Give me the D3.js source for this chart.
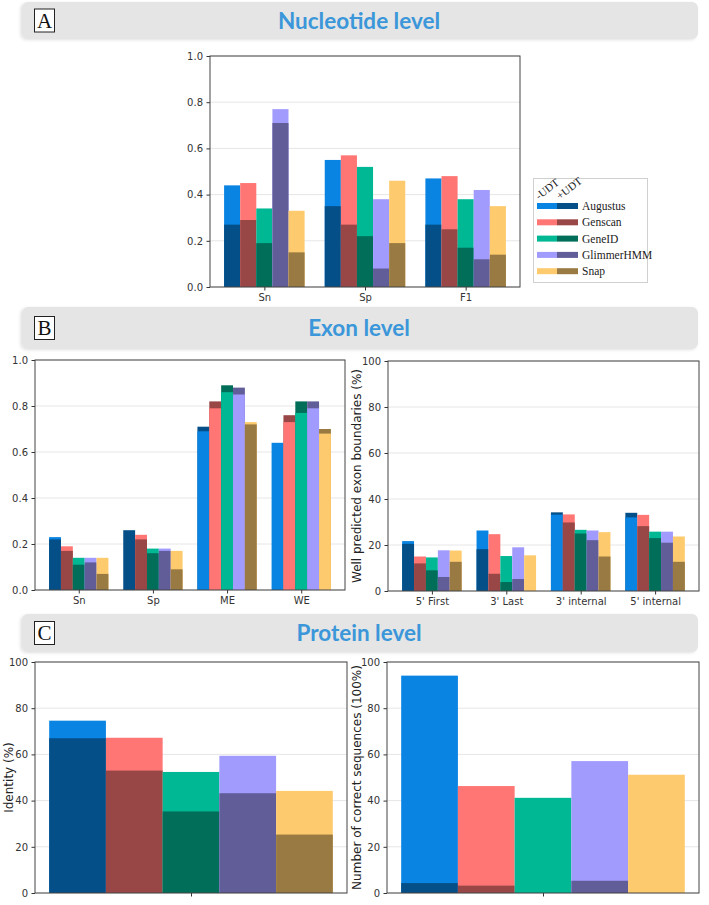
<!DOCTYPE html>
<html><head><meta charset="utf-8">
<script src="https://cdn.jsdelivr.net/npm/d3@7"></script>
<style>body{margin:0;background:#fff}svg{display:block}</style>
</head><body>
<script>
// ---------- data ----------
const tools = ["Augustus", "Genscan", "GeneID", "GlimmerHMM", "Snap"];
const lightColors = ["#0984e3", "#ff7675", "#00b894", "#a29bfe", "#fdcb6e"]; // -UDT
const darkColors  = ["#054f88", "#994746", "#006e59", "#615d98", "#987a42"]; // +UDT
const seriesLabels = ["-UDT", "+UDT"];

// A: nucleotide level (rows = tools, cols = categories)
const nucCats = ["Sn", "Sp", "F1"];
const nucMinus = [[0.44, 0.55, 0.47], [0.45, 0.57, 0.48], [0.34, 0.52, 0.38], [0.77, 0.38, 0.42], [0.33, 0.46, 0.35]];
const nucPlus  = [[0.27, 0.35, 0.27], [0.29, 0.27, 0.25], [0.19, 0.22, 0.17], [0.71, 0.08, 0.12], [0.15, 0.19, 0.14]];

// B left: exon level
const exonCats = ["Sn", "Sp", "ME", "WE"];
const exonMinus = [[0.23, null, 0.69, 0.64], [0.19, 0.24, 0.79, 0.73], [0.14, 0.18, 0.86, 0.77], [0.14, 0.18, 0.85, 0.79], [0.14, 0.17, 0.73, 0.68]];
const exonPlus  = [[0.22, 0.26, 0.71, null], [0.17, 0.22, 0.82, 0.76], [0.11, 0.16, 0.89, 0.82], [0.12, 0.17, 0.88, 0.82], [0.07, 0.09, 0.72, 0.70]];

// B right: well predicted exon boundaries (%)
const boundCats = ["5' First", "3' Last", "3' internal", "5' internal"];
const boundMinus = [[21.7, 26.3, 33.2, 32.0], [15.0, 24.7, 33.3, 33.1], [14.6, 15.2, 26.6, 25.8], [17.7, 19.0, 26.3, 25.8], [17.6, 15.5, 25.6, 23.7]];
const boundPlus  = [[20.5, 18.2, 34.2, 34.0], [12.0, 7.5, 29.8, 28.2], [9.0, 3.9, 25.0, 23.0], [6.1, 5.2, 22.1, 21.0], [12.7, 0, 15.0, 12.7]];

// C: protein level
const protCats = [""];
const identMinus = [[74.6], [67.2], [52.4], [59.4], [44.2]];
const identPlus  = [[67.0], [53.0], [35.3], [43.2], [25.3]];
const correctMinus = [[94.1], [46.3], [41.2], [57.1], [51.2]];
const correctPlus  = [[4.3], [3.2], [0], [5.3], [0]];

const ticksFrac = [0, 0.2, 0.4, 0.6, 0.8, 1.0];
const ticksPct = [0, 20, 40, 60, 80, 100];

const headers = [
  {letter: "A", title: "Nucleotide level", y0: 2, y1: 39},
  {letter: "B", title: "Exon level", y0: 307, y1: 349},
  {letter: "C", title: "Protein level", y0: 614, y1: 652}
];

// ---------- drawing ----------
const W = 709, H = 905;
const svg = d3.select("body").append("svg").attr("width", W).attr("height", H);
const defs = svg.append("defs");
const f = defs.append("filter").attr("id", "sh").attr("x", "-5%").attr("y", "-30%").attr("width", "110%").attr("height", "160%");
f.append("feDropShadow").attr("dx", -1.5).attr("dy", 1).attr("stdDeviation", 1.5).attr("flood-color", "#000").attr("flood-opacity", 0.12);

headers.forEach(h => {
  const g = svg.append("g");
  g.append("rect").attr("x", 22).attr("y", h.y0).attr("width", 676).attr("height", h.y1 - h.y0)
    .attr("rx", 6).attr("fill", "#e5e5e5").attr("filter", "url(#sh)");
  const cy = (h.y0 + h.y1) / 2;
  g.append("rect").attr("x", 34.5).attr("y", cy - 11.5).attr("width", 20).attr("height", 23)
    .attr("fill", "#fff").attr("stroke", "#222").attr("stroke-width", 1);
  g.append("text").attr("x", 44.5).attr("y", cy + 7).attr("text-anchor", "middle")
    .attr("font-family", "Liberation Serif, serif").attr("font-size", 21).attr("fill", "#111").text(h.letter);
  g.append("text").attr("x", 359).attr("y", cy + 8).attr("text-anchor", "middle")
    .attr("font-family", "Lato, 'Open Sans', sans-serif").attr("font-weight", "bold")
    .attr("font-size", 22.5).attr("fill", "#3b97d9").text(h.title);
});

function panel(cfg) {
  const g = svg.append("g");
  const n = cfg.cats.length;
  const x = d3.scaleLinear().domain(cfg.xdomain).range([cfg.left, cfg.right]);
  const y = d3.scaleLinear().domain(cfg.ydomain).range([cfg.bottom, cfg.top]);
  // grid
  g.append("g").selectAll("line").data(cfg.yticks).join("line")
    .attr("x1", cfg.left).attr("x2", cfg.right).attr("y1", d => y(d)).attr("y2", d => y(d))
    .attr("stroke", "#e6e6e6").attr("stroke-width", 1);
  // bars
  const bw = 0.16;
  const items = [];
  cfg.cats.forEach((c, i) => {
    tools.forEach((t, j) => {
      const pair = [
        {v: cfg.minus[j][i], color: lightColors[j]},
        {v: cfg.plus[j][i], color: darkColors[j]}
      ].filter(p => p.v !== null && p.v !== undefined).sort((a, b) => b.v - a.v);
      pair.forEach(p => items.push({xc: i + (j - 2) * bw, v: p.v, color: p.color}));
    });
  });
  g.append("g").selectAll("rect").data(items).join("rect")
    .attr("x", d => x(d.xc - bw / 2)).attr("width", d => x(d.xc + bw / 2) - x(d.xc - bw / 2))
    .attr("y", d => y(d.v)).attr("height", d => y(0) - y(d.v))
    .attr("fill", d => d.color);
  // axes
  const ax = g.append("g").attr("transform", `translate(${cfg.left},0)`)
    .call(d3.axisLeft(y).tickValues(cfg.yticks).tickSize(3.5).tickPadding(3.5).tickFormat(cfg.yfmt));
  const bx = g.append("g").attr("transform", `translate(0,${cfg.bottom})`)
    .call(d3.axisBottom(x).tickValues(d3.range(n)).tickSize(3.5).tickPadding(3.5).tickFormat(i => cfg.cats[i]));
  [ax, bx].forEach(a => {
    a.attr("font-family", "DejaVu Sans").attr("font-size", 10);
    a.select(".domain").remove();
    a.selectAll("line").attr("stroke", "#333");
    a.selectAll("text").attr("fill", "#333");
  });
  // spines
  g.append("rect").attr("x", cfg.left).attr("y", cfg.top).attr("width", cfg.right - cfg.left)
    .attr("height", cfg.bottom - cfg.top).attr("fill", "none").attr("stroke", "#444").attr("stroke-width", 1);
  if (cfg.ylabel) {
    g.append("text").attr("transform", `translate(${cfg.ylabelX},${(cfg.top + cfg.bottom) / 2}) rotate(-90)`)
      .attr("text-anchor", "middle").attr("font-family", "DejaVu Sans").attr("font-size", 12)
      .attr("fill", "#222").text(cfg.ylabel);
  }
}

const fmtFrac = d3.format(".1f"), fmtInt = d3.format("d");

panel({left: 210, right: 520, top: 56, bottom: 287, cats: nucCats, minus: nucMinus, plus: nucPlus,
  ydomain: [0, 1], yticks: ticksFrac, yfmt: fmtFrac, xdomain: [-0.54, 2.54]});
panel({left: 35, right: 345, top: 360, bottom: 590, cats: exonCats, minus: exonMinus, plus: exonPlus,
  ydomain: [0, 1], yticks: ticksFrac, yfmt: fmtFrac, xdomain: [-0.59, 3.59]});
panel({left: 388, right: 699, top: 361, bottom: 591, cats: boundCats, minus: boundMinus, plus: boundPlus,
  ydomain: [0, 100], yticks: ticksPct, yfmt: fmtInt, xdomain: [-0.59, 3.59],
  ylabel: "Well predicted exon boundaries (%)", ylabelX: 361});
panel({left: 35, right: 347, top: 662, bottom: 893, cats: protCats, minus: identMinus, plus: identPlus,
  ydomain: [0, 100], yticks: ticksPct, yfmt: fmtInt, xdomain: [-0.44, 0.44],
  ylabel: "Identity (%)", ylabelX: 13});
panel({left: 387, right: 699, top: 662, bottom: 893, cats: protCats, minus: correctMinus, plus: correctPlus,
  ydomain: [0, 100], yticks: ticksPct, yfmt: fmtInt, xdomain: [-0.44, 0.44],
  ylabel: "Number of correct sequences (100%)", ylabelX: 361});

// legend
const lg = svg.append("g");
lg.append("rect").attr("x", 533.5).attr("y", 178.5).attr("width", 114).attr("height", 104)
  .attr("fill", "#fff").attr("stroke", "#d0d0d0").attr("stroke-width", 1);
seriesLabels.forEach((s, k) => {
  lg.append("text").attr("transform", `translate(${539 + k * 21},${200}) rotate(-38)`)
    .attr("font-family", "Liberation Serif, serif").attr("font-size", 11).attr("fill", "#222").text(s);
});
tools.forEach((t, j) => {
  const yy = 206 + j * 16.3;
  lg.append("rect").attr("x", 537).attr("y", yy - 3).attr("width", 20).attr("height", 6).attr("fill", lightColors[j]);
  lg.append("rect").attr("x", 557).attr("y", yy - 3).attr("width", 21).attr("height", 6).attr("fill", darkColors[j]);
  lg.append("text").attr("x", 582).attr("y", yy + 4).attr("font-family", "Liberation Serif, serif")
    .attr("font-size", 11.5).attr("fill", "#222").text(t);
});
</script>
</body></html>
